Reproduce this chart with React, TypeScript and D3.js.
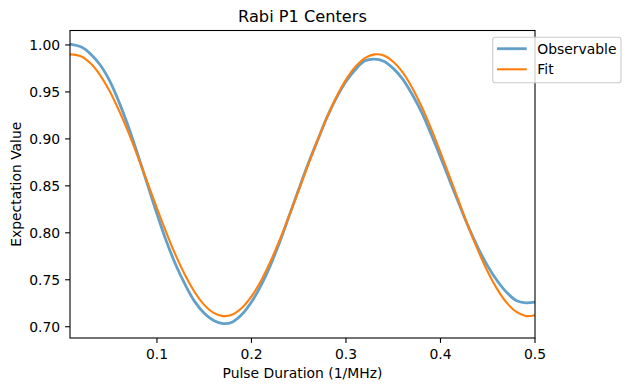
import { line, curveCatmullRom, scaleLinear } from 'd3'

const durations = [
  0.008, 0.02, 0.03, 0.04, 0.05, 0.06, 0.07, 0.08, 0.09, 0.1,
  0.11, 0.12, 0.13, 0.14, 0.15, 0.16, 0.17, 0.18, 0.19, 0.2,
  0.21, 0.22, 0.23, 0.24, 0.25, 0.26, 0.27, 0.28, 0.29, 0.3,
  0.31, 0.32, 0.33, 0.34, 0.35, 0.36, 0.37, 0.38, 0.39, 0.4,
  0.41, 0.42, 0.43, 0.44, 0.45, 0.46, 0.47, 0.48, 0.49, 0.5,
]

const observable = [
  1.001, 0.9978, 0.9902, 0.9787, 0.9617, 0.9389, 0.9123, 0.8824, 0.8514, 0.8202,
  0.791, 0.7657, 0.7445, 0.7267, 0.7143, 0.7067, 0.7033, 0.7051, 0.7132, 0.7263,
  0.7438, 0.7653, 0.7906, 0.8184, 0.8463, 0.8735, 0.8986, 0.9232, 0.9439, 0.9611,
  0.9739, 0.9831, 0.985, 0.9827, 0.9751, 0.9637, 0.9475, 0.9285, 0.9052, 0.8806,
  0.855, 0.8298, 0.8053, 0.7835, 0.7645, 0.749, 0.7366, 0.728, 0.7255, 0.7263,
]

const fit = [
  0.99, 0.9878, 0.9802, 0.9677, 0.9507, 0.9299, 0.9063, 0.8804, 0.8534, 0.8262,
  0.8, 0.7757, 0.7545, 0.7367, 0.7233, 0.7147, 0.7113, 0.7131, 0.7202, 0.7323,
  0.7488, 0.7693, 0.7926, 0.8184, 0.8453, 0.8725, 0.8986, 0.9232, 0.9449, 0.9631,
  0.9769, 0.9861, 0.99, 0.9887, 0.9821, 0.9707, 0.9545, 0.9345, 0.9112, 0.8856,
  0.859, 0.8318, 0.8053, 0.7805, 0.7585, 0.74, 0.7256, 0.716, 0.7115, 0.7123,
]

const xTicks = [0.1, 0.2, 0.3, 0.4, 0.5]
const yTicks = [0.7, 0.75, 0.8, 0.85, 0.9, 0.95, 1.0]

const width = 631
const height = 391
const plot = { left: 70, right: 535, top: 30.5, bottom: 338 }
const font = "'DejaVu Sans', sans-serif"

type Point = { x: number; y: number }

function App() {
  const xScale = scaleLinear().domain([0.008, 0.5]).range([plot.left, plot.right])
  const yScale = scaleLinear().domain([0.688, 1.0154]).range([plot.bottom, plot.top])

  const path = line<Point>()
    .x((d) => xScale(d.x))
    .y((d) => yScale(d.y))
    .curve(curveCatmullRom)

  const obsPoints = durations.map((x, i) => ({ x, y: observable[i] }))
  const fitPoints = durations.map((x, i) => ({ x, y: fit[i] }))

  return (
    <svg
      width={width}
      height={height}
      style={{ position: 'absolute', left: 0, top: 0, display: 'block', background: '#fff' }}
      fontFamily={font}
    >
      <defs>
        <clipPath id="plot-clip">
          <rect x={plot.left} y={plot.top} width={plot.right - plot.left} height={plot.bottom - plot.top} />
        </clipPath>
      </defs>

      <text x={(plot.left + plot.right) / 2} y={22} textAnchor="middle" fontSize={16.2} fill="#000">
        Rabi P1 Centers
      </text>

      <g clipPath="url(#plot-clip)">
        <path d={path(obsPoints) ?? ''} fill="none" stroke="#1f77b4" strokeOpacity={0.7} strokeWidth={2.8} />
        <path d={path(fitPoints) ?? ''} fill="none" stroke="#ff7f0e" strokeWidth={2.1} />
      </g>

      {/* axes frame */}
      <rect
        x={plot.left}
        y={plot.top}
        width={plot.right - plot.left}
        height={plot.bottom - plot.top}
        fill="none"
        stroke="#000"
        strokeWidth={1.1}
      />

      {xTicks.map((tick) => {
        const x = xScale(tick)
        return (
          <g key={`x-${tick}`}>
            <line x1={x} x2={x} y1={plot.bottom} y2={plot.bottom + 4.9} stroke="#000" strokeWidth={1.1} />
            <text x={x} y={359.3} textAnchor="middle" fontSize={13.9} fill="#000">
              {tick.toFixed(1)}
            </text>
          </g>
        )
      })}

      {yTicks.map((tick) => {
        const y = yScale(tick)
        return (
          <g key={`y-${tick}`}>
            <line x1={plot.left - 4.9} x2={plot.left} y1={y} y2={y} stroke="#000" strokeWidth={1.1} />
            <text x={60.2} y={y} dy="0.36em" textAnchor="end" fontSize={13.9} fill="#000">
              {tick.toFixed(2)}
            </text>
          </g>
        )
      })}

      <text x={(plot.left + plot.right) / 2} y={378} textAnchor="middle" fontSize={13.9} fill="#000">
        Pulse Duration (1/MHz)
      </text>
      <text
        transform={`translate(20.5, ${(plot.top + plot.bottom) / 2}) rotate(-90)`}
        textAnchor="middle"
        fontSize={13.9}
        fill="#000"
      >
        Expectation Value
      </text>

      {/* legend */}
      <rect
        x={492.7}
        y={37.3}
        width={128.3}
        height={45.4}
        rx={2.8}
        fill="#fff"
        fillOpacity={0.8}
        stroke="#cccccc"
        strokeWidth={1.1}
      />
      <line x1={497} x2={526.7} y1={48.7} y2={48.7} stroke="#1f77b4" strokeOpacity={0.7} strokeWidth={2.8} />
      <text x={537.3} y={48.7} dy="0.36em" fontSize={13.9} fill="#000">
        Observable
      </text>
      <line x1={497} x2={526.7} y1={69.3} y2={69.3} stroke="#ff7f0e" strokeWidth={2.1} />
      <text x={537.3} y={69.3} dy="0.36em" fontSize={13.9} fill="#000">
        Fit
      </text>
    </svg>
  )
}

export default App
